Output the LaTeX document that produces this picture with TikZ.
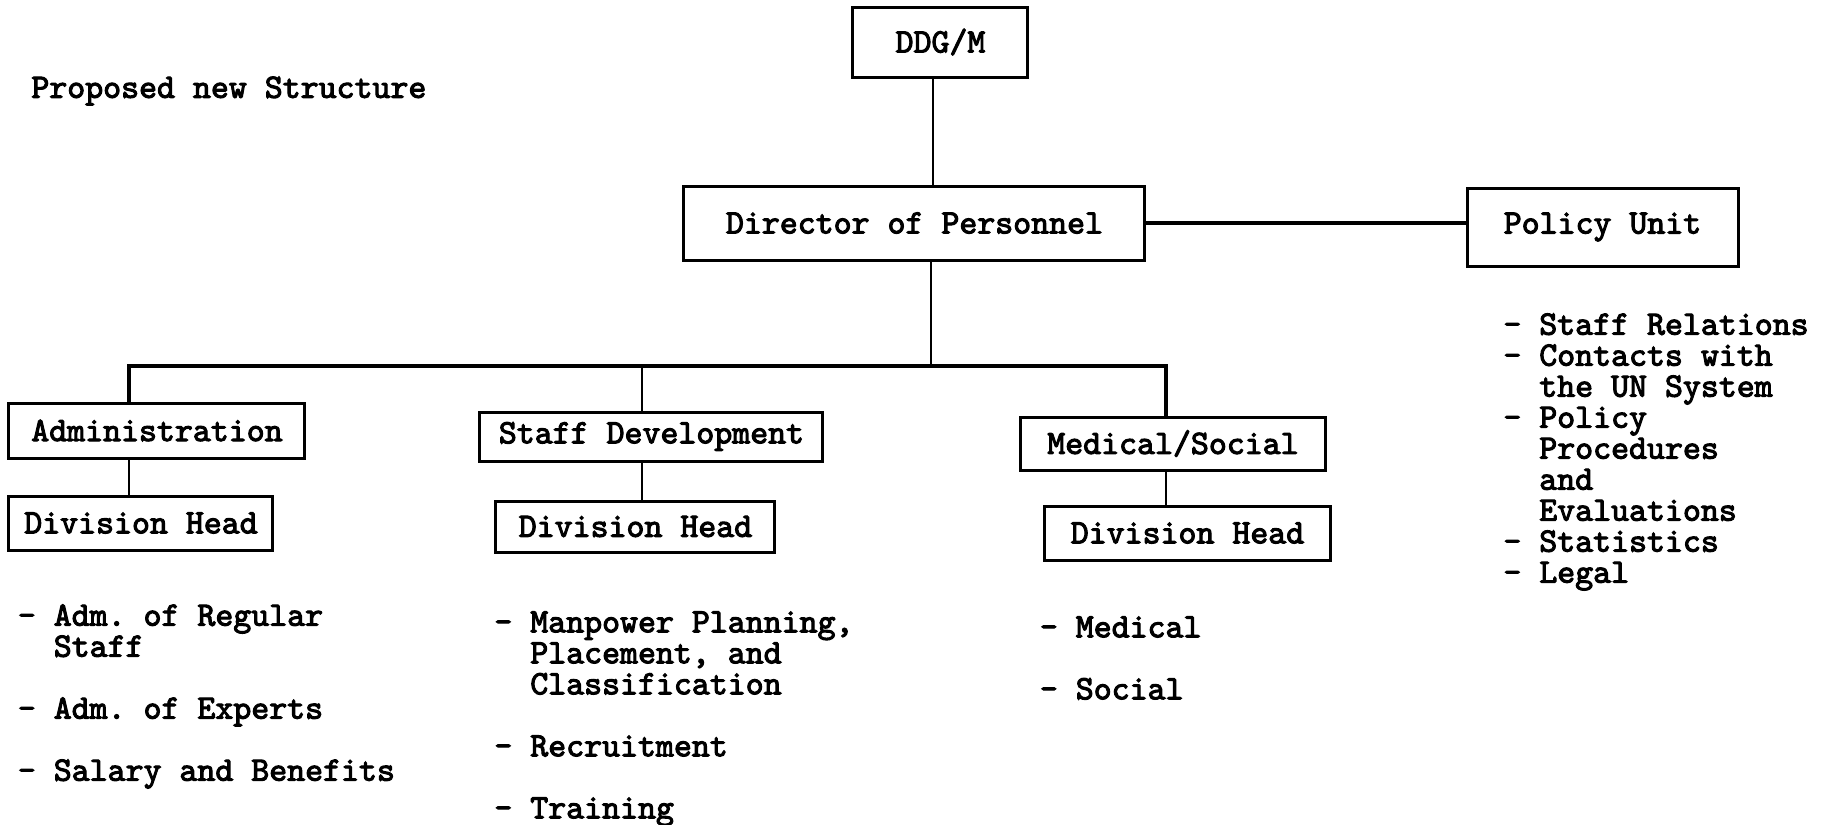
\documentclass[tikz,border=0pt]{standalone}
\usepackage{fontspec}
\newfontfamily\typewriter[FakeBold=3]{lmmono10-regular.otf}
\usepackage{tikz}
\tikzset{
    boxnode/.style = {draw, rectangle, line width=1.5pt, inner sep=0em, node distance=0em},
    textnode/.style = {draw=none, fill=none, rectangle, inner sep=0em, node distance=0em, align=left},
    connect/.style = {black, line width=1pt},
    busline/.style = {black, line width=1.6pt},
    every node/.style = {font=\fontsize{17.1}{15.5}\selectfont\typewriter}
}
\begin{document}
\begin{tikzpicture}
    \useasboundingbox (-470.25pt,21pt) rectangle (443.25pt,-391.5pt);

    \node [name=ddg, boxnode, minimum width=87.5pt, minimum height=35pt] {DDG/M};
    \node [name=dir, boxnode, minimum width=230.5pt, minimum height=37pt,
        below of = ddg, xshift=-13pt, yshift=-90.5pt] {Director of Personnel};
    \node [name=pol, boxnode, minimum width=135.5pt, minimum height=39pt,
        below of = ddg, xshift=331pt, yshift=-92.5pt] {Policy Unit};

    \node [name=title, textnode, below of = ddg, anchor=west, xshift=-454.75pt, yshift=-24.5pt]
        {Proposed new Structure};

    \node [name=adm, boxnode, minimum width=148pt, minimum height=27.5pt,
        below of = ddg, xshift=-391.75pt, yshift=-194.25pt] {Administration};
    \node [name=dev, boxnode, minimum width=171.5pt, minimum height=24.5pt,
        below of = ddg, xshift=-144.5pt, yshift=-197.25pt] {Staff Development};
    \node [name=med, boxnode, minimum width=152pt, minimum height=26.5pt,
        below of = ddg, xshift=116.25pt, yshift=-200.75pt] {Medical/Social};

    \node [name=admhead, boxnode, minimum width=132pt, minimum height=27pt,
        below of = ddg, xshift=-399.75pt, yshift=-240.5pt] {Division Head};
    \node [name=devhead, boxnode, minimum width=139.5pt, minimum height=25.5pt,
        below of = ddg, xshift=-152.5pt, yshift=-242.25pt] {Division Head};
    \node [name=medhead, boxnode, minimum width=142.5pt, minimum height=27pt,
        below of = ddg, xshift=123.5pt, yshift=-245.5pt] {Division Head};

    % task lists
    \node [name=admlist, textnode, below of = ddg, anchor=north west, xshift=-461.5pt, yshift=-281pt]
        {- Adm.\ of Regular\\\phantom{- }Staff\\[15.5pt]- Adm.\ of Experts\\[15.5pt]- Salary and Benefits};
    \node [name=devlist, textnode, below of = ddg, anchor=north west, xshift=-223.25pt, yshift=-284.5pt]
        {- Manpower Planning,\\\phantom{- }Placement, and\\\phantom{- }Classification\\[15.5pt]- Recruitment\\[15.5pt]- Training};
    \node [name=medlist, textnode, below of = ddg, anchor=north west, xshift=49.5pt, yshift=-287pt]
        {- Medical\\[15.5pt]- Social};
    \node [name=pollist, textnode, below of = ddg, anchor=north west, xshift=281.25pt, yshift=-135.5pt]
        {- Staff Relations\\- Contacts with\\\phantom{- }the UN System\\- Policy\\\phantom{- }Procedures\\\phantom{- }and\\\phantom{- }Evaluations\\- Statistics\\- Legal};

    % connectors
    \coordinate (jtop) at (-3.75pt,0pt);
    \coordinate (jdir) at (-4.75pt,-162pt);
    \coordinate (jadm) at (-405.75pt,-162pt);
    \coordinate (jdev) at (-149.25pt,-162pt);
    \coordinate (jmed) at (112.75pt,-162pt);

    \draw [connect] (jtop |- ddg.south) -- (jtop |- dir.north);
    \draw [busline] (dir.east) -- (dir.east -| pol.west);
    \draw [connect] (jdir |- dir.south) -- (jdir);
    \draw [busline] (jadm |- adm.north) -- (jadm) -- (jmed) -- (jmed |- med.north);
    \draw [connect] (jdev) -- (jdev |- dev.north);
    \draw [connect] (jadm |- adm.south) -- (jadm |- admhead.north);
    \draw [connect] (jdev |- dev.south) -- (jdev |- devhead.north);
    \draw [connect] (jmed |- med.south) -- (jmed |- medhead.north);
\end{tikzpicture}
\end{document}
